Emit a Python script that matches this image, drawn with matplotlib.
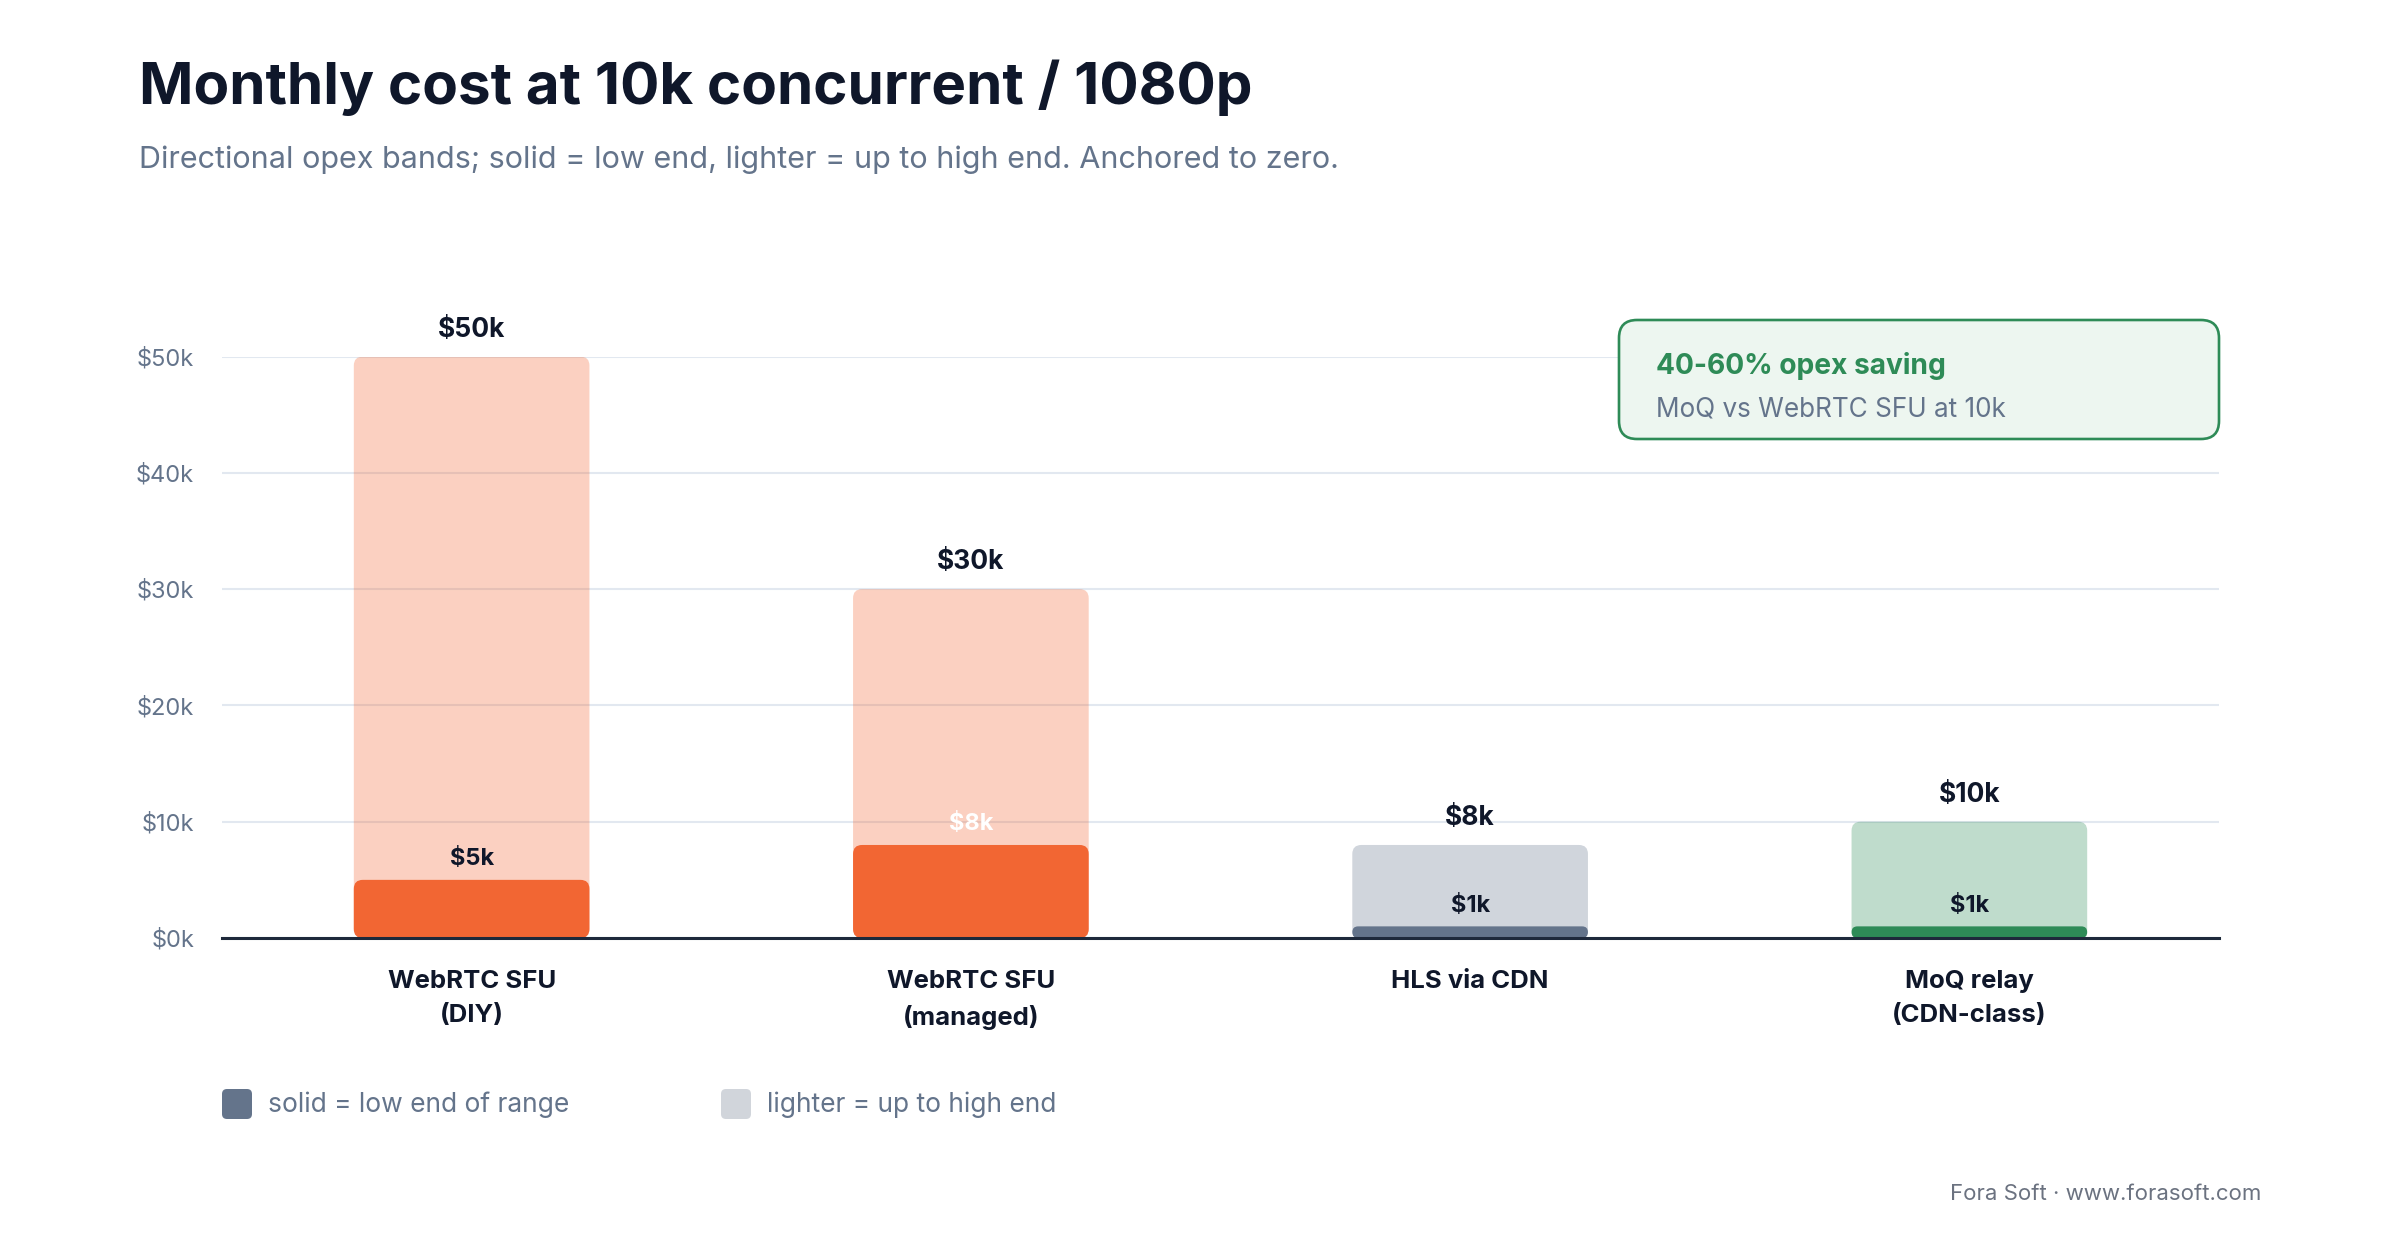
"""Monthly cost at 10k concurrent / 1080p -- low/high opex bands."""

import matplotlib

matplotlib.use("Agg")  # noqa: E402

import matplotlib.pyplot as plt
from matplotlib.patches import FancyBboxPatch

plt.rcParams["font.family"] = ["Inter", "DejaVu Sans"]

# data (values in $k / month)
categories = ["WebRTC SFU\n(DIY)", "WebRTC SFU\n(managed)", "HLS via CDN", "MoQ relay\n(CDN-class)"]
low_k = [5, 8, 1, 1]
high_k = [50, 30, 8, 10]
bar_colors = ["#f26633", "#f26633", "#64748b", "#2e8b57"]
low_label_colors = ["#0f172a", "#ffffff", "#0f172a", "#0f172a"]
yticks_k = [0, 10, 20, 30, 40, 50]

DARK = "#0f172a"
MUTED = "#64748b"
W, H = 2400, 1240

fig = plt.figure(figsize=(W / 100, H / 100), dpi=100)
ax_left, ax_right, ax_top, ax_bot = 222, 2219, 356.6, 938
ax = fig.add_axes([ax_left / W, 1 - ax_bot / H, (ax_right - ax_left) / W, (ax_bot - ax_top) / H])
ax.set_xlim(-0.5, 3.5)
ax.set_ylim(0, 50)

x_per_px = 4.0 / (ax_right - ax_left)
y_per_px = 50.0 / (ax_bot - ax_top)
bar_w = 0.472


def rounded_bar(x, h, color, alpha=1.0, radius_px=9, z=2):
    r = min(radius_px, h / y_per_px / 2)
    p = FancyBboxPatch(
        (x - bar_w / 2, 0), bar_w, h,
        boxstyle=f"round,pad=0,rounding_size={r * x_per_px}",
        mutation_aspect=y_per_px / x_per_px,
        facecolor=color, edgecolor="none", alpha=alpha, zorder=z,
    )
    ax.add_patch(p)


for i, (lo, hi, c) in enumerate(zip(low_k, high_k, bar_colors)):
    rounded_bar(i, hi, c, alpha=0.3, z=2)
    rounded_bar(i, lo, c, alpha=1.0, z=3)
    ax.annotate(f"${hi}k", (i, hi), xytext=(0, 19.5), textcoords="offset points",
                ha="center", va="center", fontsize=19, fontweight="bold", color=DARK)
    ax.annotate(f"${lo}k", (i, lo), xytext=(0, 15), textcoords="offset points",
                ha="center", va="center", fontsize=17, fontweight="bold",
                color=low_label_colors[i], zorder=6)

ax.set_yticks(yticks_k)
ax.set_yticklabels([f"${v}k" for v in yticks_k])
ax.yaxis.grid(True, color="#e2e8f0", linewidth=1.5)
ax.set_axisbelow(True)
ax.tick_params(axis="y", length=0, pad=20, labelsize=17, labelcolor=MUTED)
ax.set_xticks(range(len(categories)))
ax.set_xticklabels(categories, fontweight="bold", color=DARK, fontsize=18.5)
ax.tick_params(axis="x", length=0, pad=23)
for lbl in ax.get_xticklabels():
    lbl.set_linespacing(1.6)
for s in ["top", "right", "left"]:
    ax.spines[s].set_visible(False)
ax.spines["bottom"].set_color("#1e293b")
ax.spines["bottom"].set_linewidth(2.2)
ax.spines["bottom"].set_zorder(5)

# overlay in pixel coords (y down) for titles, legend, callout
ov = fig.add_axes([0, 0, 1, 1], zorder=10)
ov.set_xlim(0, W)
ov.set_ylim(H, 0)
ov.axis("off")

ov.text(139, 104, "Monthly cost at 10k concurrent / 1080p", fontsize=42,
        fontweight="bold", color=DARK, va="baseline")
ov.text(139, 168, "Directional opex bands; solid = low end, lighter = up to high end. Anchored to zero.",
        fontsize=22, color=MUTED, va="baseline")

# callout box
ov.add_patch(FancyBboxPatch((1619, 320), 600, 119, boxstyle="round,pad=0,rounding_size=18",
                            facecolor="#edf6f0", edgecolor="#2e8b57", linewidth=1.9))
ov.text(1656, 366, "40-60% opex saving", fontsize=20.3, fontweight="bold",
        color="#2e8b57", va="center")
ov.text(1656, 409, "MoQ vs WebRTC SFU at 10k", fontsize=18.8, color=MUTED, va="center")

# legend
for lx, col, txt in [(222, "#64748b", "solid = low end of range"),
                     (721, "#d1d5db", "lighter = up to high end")]:
    ov.add_patch(FancyBboxPatch((lx, 1089), 30, 30, boxstyle="round,pad=0,rounding_size=5",
                                facecolor=col, edgecolor="none"))
    ov.text(lx + 46, 1105, txt, fontsize=19, color=MUTED, va="center")

ov.text(2261, 1194, "Fora Soft · www.forasoft.com", fontsize=16, color="#6b7280",
        ha="right", va="center")

fig.savefig("out.png", dpi=100)
plt.close(fig)
